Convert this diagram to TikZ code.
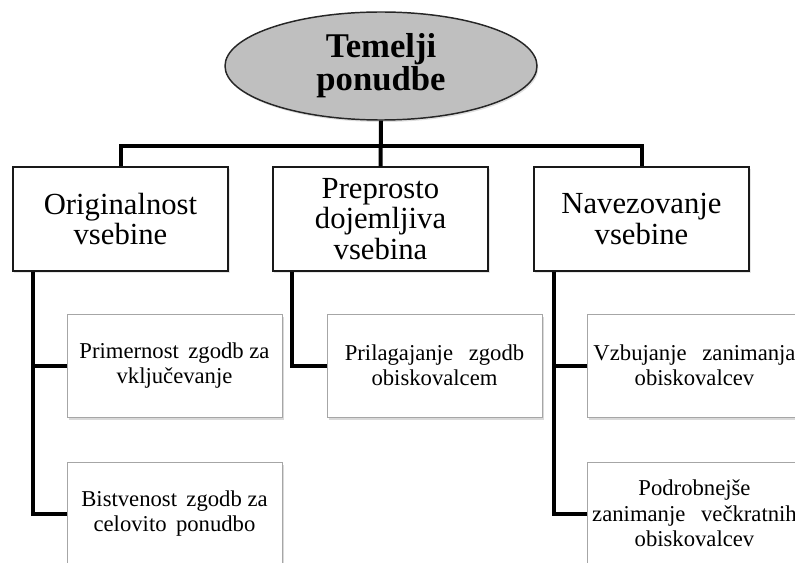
\documentclass[tikz,border=0pt]{standalone}
\usepackage{fontspec}
\setmainfont{Liberation Serif}
\usetikzlibrary{shapes.geometric,shadows}

\begin{document}
\begin{tikzpicture}[x=0.75pt,y=-0.75pt]
    \tikzstyle{every node}=[font=\fontsize{23}{23}\selectfont,align=center]
    \tikzstyle{root}=[draw=black!85,line width=1.1pt,ellipse,fill=black!25,
        minimum width=234pt,minimum height=81pt,inner sep=0pt,
        font=\fontsize{26}{23}\selectfont\bfseries,
        drop shadow={shadow xshift=1pt,shadow yshift=-1.5pt,opacity=0.25}]
    \tikzstyle{topic}=[draw=black!90,line width=1.1pt,rectangle,fill=white,
        minimum width=161.5pt,minimum height=78pt,inner sep=2pt,
        drop shadow={shadow xshift=1pt,shadow yshift=-1.5pt,opacity=0.2}]
    \tikzstyle{sub}=[draw=black!35,line width=0.7pt,rectangle,fill=white,
        minimum width=161.25pt,minimum height=77.25pt,inner sep=1pt,
        font=\fontsize{17}{19}\selectfont,
        drop shadow={shadow xshift=1.2pt,shadow yshift=-2pt,opacity=0.3}]
    \tikzstyle{conn}=[line width=3pt,black]
    %% Frame
    \useasboundingbox (0,0) rectangle (795,563);
    \clip (0,0) rectangle (795,563);
    % Root
    \node at (381,66) [root] (top) {Temelji\\ponudbe};
    % First level
    \node at (120.5,219) [topic] (orig) {Originalnost\\vsebine};
    \node at (380.5,219) [topic] (prep) {Preprosto\\dojemljiva\\vsebina};
    \node at (641.5,219) [topic] (navez) {Navezovanje\\vsebine};
    % Second level
    \node at (174.5,365.5) [sub] (prim) {Primernost\, zgodb za\\vključevanje};
    \node at (174.5,513.5) [sub] (bistv) {Bistvenost\, zgodb za\\celovito\, ponudbo};
    \node at (434.5,365.5) [sub] (prilag) {Prilagajanje\;\, zgodb\\obiskovalcem};
    \node at (694.5,365.5) [sub] (vzbuj) {Vzbujanje\;\, zanimanja\\obiskovalcev};
    \node at (694.5,513.5) [sub] (podrob) {Podrobnejše\\zanimanje\;\, večkratnih\\obiskovalcev};

    \draw[conn] (top.south) -- ++(0,25) -| (orig.north);
    \draw[conn] (top.south) -- ++(0,25) -| (navez.north);
    \draw[conn] (top.south) -- (prep.north);
    \draw[conn] ([xshift=15.75pt]orig.south west) |- (prim.west);
    \draw[conn] ([xshift=15.75pt]orig.south west) |- (bistv.west);
    \draw[conn] ([xshift=15pt]prep.south west) |- (prilag.west);
    \draw[conn] ([xshift=15.75pt]navez.south west) |- (vzbuj.west);
    \draw[conn] ([xshift=15.75pt]navez.south west) |- (podrob.west);
\end{tikzpicture}
\end{document}
